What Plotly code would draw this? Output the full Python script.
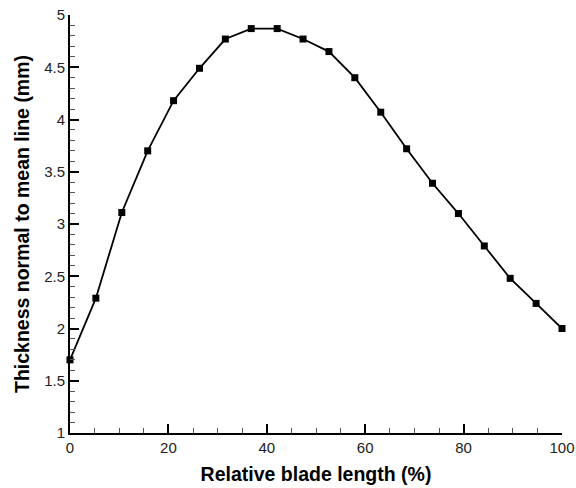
import plotly.graph_objects as go

# Relative position along the blade (%) and thickness normal to the mean line (mm)
blade_pos = [0, 5.26, 10.53, 15.79, 21.05, 26.32, 31.58, 36.84, 42.11, 47.37,
             52.63, 57.89, 63.16, 68.42, 73.68, 78.95, 84.21, 89.47, 94.74, 100]
thickness = [1.70, 2.29, 3.11, 3.70, 4.18, 4.49, 4.77, 4.87, 4.87, 4.77,
             4.65, 4.40, 4.07, 3.72, 3.39, 3.10, 2.79, 2.48, 2.24, 2.00]

x_ticks = [0, 20, 40, 60, 80, 100]
y_ticks = [1, 1.5, 2, 2.5, 3, 3.5, 4, 4.5, 5]
y_tick_text = ["1", "1.5", "2", "2.5", "3", "3.5", "4", "4.5", "5"]

fig = go.Figure()
fig.add_trace(go.Scatter(
    x=blade_pos, y=thickness,
    mode="lines+markers",
    line=dict(color="black", width=1.8),
    marker=dict(symbol="square", size=7, color="black"),
    cliponaxis=False,
    showlegend=False,
))

axis_font = dict(family="Liberation Sans, Arial, sans-serif", size=15, color="#222222")
title_font = dict(family="Liberation Sans, Arial, sans-serif", size=19.5, color="black")

fig.update_xaxes(
    range=[0, 100], tickvals=x_ticks, ticks="inside", ticklen=9, tickwidth=2,
    tickcolor="black", showline=True, linecolor="black", linewidth=2,
    showgrid=False, zeroline=False, tickfont=axis_font, automargin=False,
    minor=dict(dtick=5, tick0=0, ticks="inside", ticklen=5, tickwidth=1, tickcolor="#555555", showgrid=False),
    title=dict(text="<b>Relative blade length (%)</b>", font=title_font, standoff=12),
)
fig.update_yaxes(
    range=[1, 5], tickvals=y_ticks, ticktext=y_tick_text, ticks="inside", ticklen=9, tickwidth=2,
    tickcolor="black", showline=True, linecolor="black", linewidth=2,
    showgrid=False, zeroline=False, tickfont=axis_font, automargin=False,
    minor=dict(dtick=0.1, tick0=1, ticks="inside", ticklen=5, tickwidth=1, tickcolor="#555555", showgrid=False),
    title=dict(text="<b>Thickness normal to mean line (mm)</b>", font=title_font, standoff=9),
)

fig.update_layout(
    width=576, height=488,
    margin=dict(l=70, r=14, t=15, b=55),
    plot_bgcolor="white", paper_bgcolor="white",
)

fig.write_html("out.html")
